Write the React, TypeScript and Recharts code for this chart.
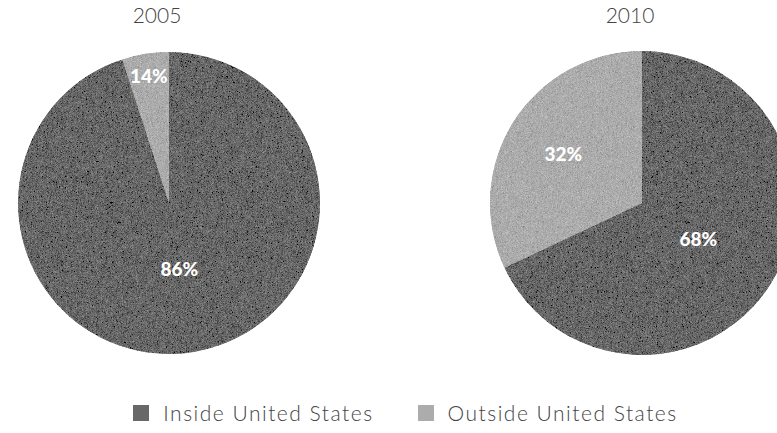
import React from "react";
import { PieChart, Pie, Cell, Legend } from "recharts";

// categories and colours
const categories = ["Inside United States", "Outside United States"];
const colors = ["#686868", "#acacac"];

// 2005: slice sizes as drawn, labels as printed
const values2005 = [95, 5];
const labels2005 = ["86%", "14%"];

// 2010
const values2010 = [68, 32];
const labels2010 = ["68%", "32%"];

const years = ["2005", "2010"];

const data2005 = categories.map((name, i) => ({ name, value: values2005[i], label: labels2005[i] }));
const data2010 = categories.map((name, i) => ({ name, value: values2010[i], label: labels2010[i] }));

const FONT = "Lato, 'Open Sans', sans-serif";
const RAD = Math.PI / 180;

const renderLabel = (props: any) => {
  const { cx, cy, midAngle, outerRadius, percent, payload } = props;
  const k = percent >= 0.5 ? 0.44 : 0.9 - 0.9 * percent;
  const r = outerRadius * k;
  const x = cx + r * Math.cos(-midAngle * RAD);
  const y = cy + r * Math.sin(-midAngle * RAD);
  return (
    <text
      x={x}
      y={y}
      fill="#ffffff"
      textAnchor="middle"
      dominantBaseline="central"
      fontFamily={FONT}
      fontWeight={900}
      fontSize={19}
    >
      {payload.label}
    </text>
  );
};

const renderLegend = () => (
  <div
    style={{
      display: "flex",
      justifyContent: "center",
      gap: 44,
      fontFamily: FONT,
      fontSize: 21,
      letterSpacing: 1.5,
      color: "#444",
      fontWeight: 300,
      paddingLeft: 34,
    }}
  >
    {categories.map((c, i) => (
      <div key={c} style={{ display: "flex", alignItems: "center" }}>
        <span
          style={{
            display: "inline-block",
            width: 16,
            height: 16,
            background: colors[i],
            marginRight: 14,
          }}
        />
        {c}
      </div>
    ))}
  </div>
);

export default function App() {
  return (
    <div style={{ position: "absolute", left: 0, top: 0, width: 777, height: 433, overflow: "hidden", background: "#fff" }}>
      <PieChart width={777} height={433}>
        <defs>
          <filter id="grain" x="0" y="0" width="100%" height="100%">
            <feTurbulence type="fractalNoise" baseFrequency="1.8" numOctaves={1} seed={3} result="noise" />
            <feColorMatrix
              in="noise"
              type="matrix"
              values="0.33 0.33 0.33 0 0  0.33 0.33 0.33 0 0  0.33 0.33 0.33 0 0  0 0 0 0 1"
              result="gray"
            />
            <feComposite in="SourceGraphic" in2="gray" operator="arithmetic" k1={0} k2={1} k3={0.8} k4={-0.4} result="mix" />
            <feComposite in="mix" in2="SourceGraphic" operator="in" />
          </filter>
        </defs>
        <Pie
          data={data2005}
          dataKey="value"
          cx={164}
          cy={198}
          outerRadius={151}
          startAngle={90}
          endAngle={-270}
          stroke="none"
          label={renderLabel}
          labelLine={false}
          isAnimationActive={false}
          style={{ filter: "url(#grain)" }}
        >
          {data2005.map((d, i) => (
            <Cell key={d.name} fill={colors[i]} />
          ))}
        </Pie>
        <Pie
          data={data2010}
          dataKey="value"
          cx={637}
          cy={198}
          outerRadius={152}
          startAngle={90}
          endAngle={-270}
          stroke="none"
          label={renderLabel}
          labelLine={false}
          isAnimationActive={false}
          style={{ filter: "url(#grain)" }}
        >
          {data2010.map((d, i) => (
            <Cell key={d.name} fill={colors[i]} />
          ))}
        </Pie>
        <Legend content={renderLegend} verticalAlign="bottom" wrapperStyle={{ bottom: 8 }} />
      </PieChart>
      {years.map((y, i) => (
        <div
          key={y}
          style={{
            position: "absolute",
            top: 2,
            left: i === 0 ? 157 - 50 : 630 - 50,
            width: 100,
            textAlign: "center",
            fontFamily: FONT,
            fontSize: 21,
            fontWeight: 300,
            color: "#444",
          }}
        >
          {y}
        </div>
      ))}
    </div>
  );
}
